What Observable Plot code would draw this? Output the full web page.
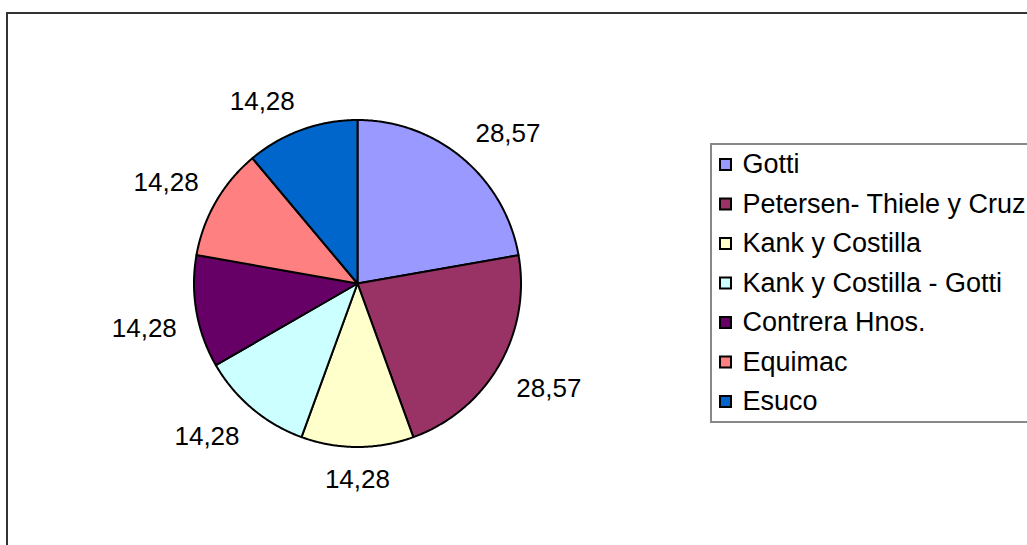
<!DOCTYPE html>
<html>
<head>
<meta charset="utf-8">
<script src="https://cdn.jsdelivr.net/npm/d3@7"></script>
<script src="https://cdn.jsdelivr.net/npm/@observablehq/plot@0.6"></script>
<style>
  body { margin: 0; background: #fff; overflow: hidden; font-family: "Liberation Sans", Arial, sans-serif; }
  #wrap { position: relative; width: 1027px; height: 545px; overflow: hidden; }
  #wrap svg { position: absolute; left: 0; top: 0; }
  #frame { position: absolute; left: 6px; top: 12px; width: 1100px; height: 600px; border: 2px solid #333; box-sizing: border-box; pointer-events: none; }
  #legbox { position: absolute; left: 710px; top: 143px; width: 400px; height: 280px; border: 2px solid #888; box-sizing: border-box; pointer-events: none; }
</style>
</head>
<body>
<div id="wrap"><div id="frame"></div><div id="legbox"></div></div>
<script>
// ---- data ----
const companies = ["Gotti", "Petersen- Thiele y Cruz", "Kank y Costilla", "Kank y Costilla - Gotti", "Contrera Hnos.", "Equimac", "Esuco"];
const shares = [28.57, 28.57, 14.28, 14.28, 14.28, 14.28, 14.28];
const colors = ["#9999FF", "#993366", "#FFFFCC", "#CCFFFF", "#660066", "#FF8080", "#0066CC"];

// ---- layout (pixels) ----
const CX = 357, CY = 283, R = 163.5;
const toX = px => (px - CX) / R;
const toY = py => (CY - py) / R;

// pie geometry (angles from 12 o'clock, clockwise)
const arcs = d3.pie().sort(null).value(d => d)(shares);
const slicePts = [];
arcs.forEach((a, i) => {
  const name = companies[i];
  slicePts.push({name, x: 0, y: 0});
  const n = Math.max(2, Math.ceil((a.endAngle - a.startAngle) / (Math.PI / 360)));
  for (let k = 0; k <= n; k++) {
    const t = a.startAngle + (a.endAngle - a.startAngle) * k / n;
    slicePts.push({name, x: Math.sin(t), y: Math.cos(t)});
  }
  slicePts.push({name, x: 0, y: 0});
});

const sgn = v => Math.abs(v) < 1e-3 ? 0 : Math.sign(v);
const fmt = v => v.toFixed(2).replace(".", ",");
const labelData = arcs.map((a, i) => {
  const t = (a.startAngle + a.endAngle) / 2;
  const s = Math.sin(t), c = Math.cos(t);
  const dx = (R + 20) * s + 32.5 * sgn(s);
  const dy = (R + 20) * c + (c < 0 ? 13 : 9) * sgn(c);
  return {x: dx / R, y: dy / R, label: fmt(shares[i])};
});

const legTop = 164, legStep = 39.5, legSwatchX = 725, legTextX = 742;

const chart = Plot.plot({
  width: 1027,
  height: 545,
  margin: 0,
  x: {domain: [-1, 1], range: [CX - R, CX + R], axis: null},
  y: {domain: [-1, 1], range: [CY + R, CY - R], axis: null},
  color: {domain: companies, range: colors},
  style: {background: "transparent", fontFamily: "'Liberation Sans', Arial, sans-serif"},
  marks: [
    Plot.line(slicePts, {x: "x", y: "y", z: "name", fill: "name", stroke: "#000", strokeWidth: 2, strokeLinejoin: "round"}),
    Plot.text(labelData, {x: "x", y: "y", text: "label", fontSize: 26, fill: "#000", textAnchor: "middle", lineAnchor: "middle"}),
    Plot.dot(companies, {x: () => toX(legSwatchX), y: (d, i) => toY(legTop + legStep * i), symbol: "square", r: 6.2, fill: d => d, stroke: "#000", strokeWidth: 2}),
    Plot.text(companies, {x: () => toX(legTextX), y: (d, i) => toY(legTop + legStep * i), text: d => d, textAnchor: "start", lineAnchor: "middle", fontSize: 27, fill: "#000"})
  ]
});
document.getElementById("wrap").prepend(chart);
</script>
</body>
</html>
